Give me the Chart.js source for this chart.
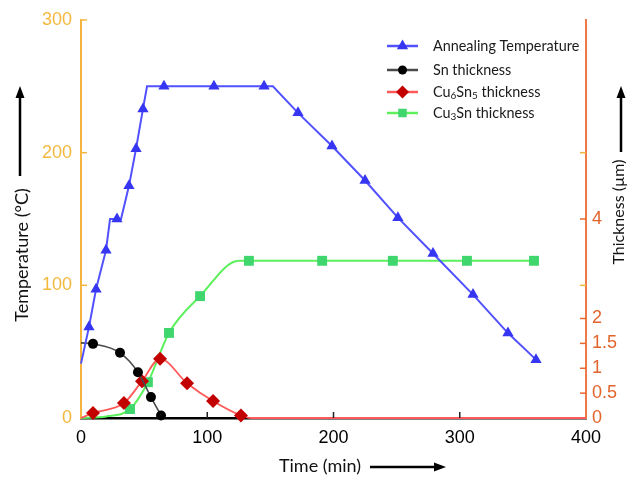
<!DOCTYPE html>
<html>
<head>
<meta charset="utf-8">
<script src="https://cdn.jsdelivr.net/npm/chart.js@4.4.0/dist/chart.umd.min.js"></script>
<style>
  html, body { margin: 0; padding: 0; background: #fff; }
</style>
</head>
<body>
<canvas id="anneal" width="629" height="477"></canvas>
<script>
// Annealing temperature (left axis, °C) - kinks without marker included
const tempTime   = [0, 6.3, 11.9, 19.8, 23, 28.5, 31.7, 38, 43.6, 49.1, 52.3, 65.7, 105.3, 145, 152, 171.9, 198.8, 225, 251, 278.8, 310.5, 338.2, 360.4];
const tempValue  = [41, 68.5, 97, 126.5, 150, 150, 150, 175, 203, 233, 250, 250, 250, 250, 250, 230, 205, 179, 151, 124, 93, 64, 44];
const tempMarker = [0, 1, 1, 1, 0, 1, 0, 1, 1, 1, 0, 1, 1, 1, 0, 1, 1, 1, 1, 1, 1, 1, 1];

// Thickness series (right axis, µm)
const snTime     = [0, 9.5, 30.9, 45.1, 55.4, 63.4];
const snValue    = [1.51, 1.49, 1.31, 0.92, 0.42, 0.05];
const snMarker   = [0, 1, 1, 1, 1, 1];

const cu6Time    = [0, 9.5, 34, 48.3, 62.6, 84, 104.6, 126.7, 135, 400];
const cu6Value   = [0, 0.1, 0.3, 0.74, 1.19, 0.7, 0.34, 0.05, 0, 0];
const cu6Marker  = [0, 1, 1, 1, 1, 1, 1, 1, 0, 0];

const cu3Time    = [0, 20, 38.8, 53, 69.7, 94.3, 125, 133, 191, 247, 305.7, 358.8];
const cu3Value   = [0, 0.03, 0.18, 0.72, 1.71, 2.45, 3.16, 3.16, 3.16, 3.16, 3.16, 3.16];
const cu3Marker  = [0, 0, 1, 1, 1, 1, 0, 1, 1, 1, 1, 1];

const thicknessTicks = [0, 0.5, 1, 1.5, 2, 4];

const toPoints = (xs, ys) => xs.map((t, i) => ({ x: t, y: ys[i] }));
const radii = (flags, r) => flags.map(f => f ? r : 0);

const tickFont = { family: "'Liberation Sans', Arial, sans-serif", size: 18 };
const textFont = "Lato, 'Open Sans', sans-serif";

// legend entries, with subscripts as separate pieces
const legendRows = [
    [["Annealing Temperature"]],
    [["Sn thickness"]],
    [["Cu"], ["6", 1], ["Sn"], ["5", 1], [" thickness"]],
    [["Cu"], ["3", 1], ["Sn thickness"]]
];

function drawArrow(ctx, x0, y0, x1, y1) {
    const ang = Math.atan2(y1 - y0, x1 - x0);
    const head = 12, half = 4.5;
    ctx.beginPath();
    ctx.moveTo(x0, y0);
    ctx.lineTo(x1 - Math.cos(ang) * head * 0.8, y1 - Math.sin(ang) * head * 0.8);
    ctx.stroke();
    ctx.beginPath();
    ctx.moveTo(x1, y1);
    ctx.lineTo(x1 - Math.cos(ang) * head - Math.sin(ang) * half, y1 - Math.sin(ang) * head + Math.cos(ang) * half);
    ctx.lineTo(x1 - Math.cos(ang) * head + Math.sin(ang) * half, y1 - Math.sin(ang) * head - Math.cos(ang) * half);
    ctx.closePath();
    ctx.fill();
}

const decorations = {
    id: "decorations",
    afterDraw(chart) {
        const ctx = chart.ctx;
        const sx = chart.scales.x, sy = chart.scales.y, sy1 = chart.scales.y1;
        const a = chart.chartArea;
        ctx.save();

        // inward tick marks
        ctx.lineWidth = 1.5;
        ctx.strokeStyle = "#F4B53F";
        [100, 200, 300].forEach(v => {
            const py = sy.getPixelForValue(v);
            ctx.beginPath(); ctx.moveTo(a.left, py); ctx.lineTo(a.left + 6, py); ctx.stroke();
        });
        [100, 200].forEach(v => {
            const py = sy.getPixelForValue(v);
            ctx.beginPath(); ctx.moveTo(a.right, py); ctx.lineTo(a.right - 6, py); ctx.stroke();
        });
        ctx.strokeStyle = "#E8692F";
        thicknessTicks.slice(1).forEach(v => {
            const py = sy1.getPixelForValue(v);
            ctx.beginPath(); ctx.moveTo(a.right, py); ctx.lineTo(a.right - 6, py); ctx.stroke();
        });
        ctx.strokeStyle = "#222";
        [100, 200, 300].forEach(v => {
            const px = sx.getPixelForValue(v);
            ctx.beginPath(); ctx.moveTo(px, a.bottom); ctx.lineTo(px, a.bottom - 6); ctx.stroke();
        });

        // axis titles
        ctx.fillStyle = "#111";
        ctx.font = "18px " + textFont;
        ctx.textBaseline = "middle";
        ctx.textAlign = "center";
        ctx.fillText("Time (min)", 320, 466);
        ctx.save();
        ctx.translate(22, 255);
        ctx.rotate(-Math.PI / 2);
        ctx.fillText("Temperature (\u00B0C)", 0, 0);
        ctx.restore();
        ctx.font = "16px " + textFont;
        ctx.save();
        ctx.translate(619, 212);
        ctx.rotate(-Math.PI / 2);
        ctx.fillText("Thickness (\u00B5m)", 0, 0);
        ctx.restore();

        // arrows
        ctx.strokeStyle = "#000";
        ctx.fillStyle = "#000";
        ctx.lineWidth = 2.5;
        drawArrow(ctx, 20, 176, 20, 86);
        drawArrow(ctx, 621, 152, 621, 86);
        drawArrow(ctx, 370, 467, 446, 467);

        // legend
        const lx0 = 387, lx1 = 418, tx = 433;
        const rowY = [46, 70, 92, 113];
        chart.data.datasets.forEach((ds, i) => {
            const y = rowY[i];
            ctx.strokeStyle = ds.borderColor;
            ctx.lineWidth = 2.5;
            ctx.beginPath(); ctx.moveTo(lx0, y); ctx.lineTo(lx1, y); ctx.stroke();
            ctx.fillStyle = ds.pointBackgroundColor;
            ctx.strokeStyle = ds.pointBackgroundColor;
            Chart.helpers.drawPoint(ctx, {
                pointStyle: ds.pointStyle, radius: ds.legendRadius, rotation: 0, borderWidth: 0
            }, (lx0 + lx1) / 2, y);

            let x = tx;
            ctx.fillStyle = "#1a1a1a";
            ctx.textAlign = "left";
            ctx.textBaseline = "middle";
            legendRows[i].forEach(([txt, sub]) => {
                ctx.font = (sub ? "10px " : "14.4px ") + textFont;
                ctx.fillText(txt, x, sub ? y + 4 : y);
                x += ctx.measureText(txt).width;
            });
        });

        ctx.restore();
    }
};

new Chart(document.getElementById("anneal"), {
    type: "line",
    data: {
        datasets: [
            {
                label: "Annealing Temperature",
                data: toPoints(tempTime, tempValue),
                yAxisID: "y",
                borderColor: "#5151FF",
                borderWidth: 2,
                pointStyle: "triangle",
                pointRadius: radii(tempMarker, 6.5),
                legendRadius: 6.5,
                pointBackgroundColor: "#3636F2",
                pointBorderWidth: 0,
                tension: 0,
                clip: false
            },
            {
                label: "Sn thickness",
                data: toPoints(snTime, snValue),
                yAxisID: "y1",
                borderColor: "#4a4a4a",
                borderWidth: 1.6,
                pointStyle: "circle",
                pointRadius: radii(snMarker, 5),
                legendRadius: 4.5,
                pointBackgroundColor: "#000000",
                pointBorderWidth: 0,
                cubicInterpolationMode: "monotone",
                clip: false
            },
            {
                label: "Cu6Sn5 thickness",
                data: toPoints(cu6Time, cu6Value),
                yAxisID: "y1",
                borderColor: "#FF5A5A",
                borderWidth: 1.8,
                pointStyle: "rectRot",
                pointRadius: radii(cu6Marker, 7),
                legendRadius: 6.5,
                pointBackgroundColor: "#C20000",
                pointBorderWidth: 0,
                cubicInterpolationMode: "monotone",
                clip: false
            },
            {
                label: "Cu3Sn thickness",
                data: toPoints(cu3Time, cu3Value),
                yAxisID: "y1",
                borderColor: "#5CF05C",
                borderWidth: 2,
                pointStyle: "rect",
                pointRadius: radii(cu3Marker, 7),
                legendRadius: 6,
                pointBackgroundColor: "#3FD66E",
                pointBorderWidth: 0,
                cubicInterpolationMode: "monotone",
                clip: false
            }
        ]
    },
    options: {
        responsive: false,
        animation: false,
        events: [],
        layout: { padding: { top: 20, right: 0, left: 0, bottom: 0 } },
        plugins: {
            legend: { display: false },
            tooltip: { enabled: false }
        },
        scales: {
            x: {
                type: "linear",
                min: 0,
                max: 400,
                afterFit: s => { s.height = 59; },
                ticks: { stepSize: 100, color: "#000", font: tickFont, padding: 9, maxRotation: 0 },
                grid: { drawOnChartArea: false, drawTicks: false },
                border: { color: "#000", width: 2.5 }
            },
            y: {
                position: "left",
                min: 0,
                max: 300,
                afterFit: s => { s.width = 81; },
                ticks: { stepSize: 100, color: "#F4B83F", font: tickFont, padding: 9 },
                grid: { drawOnChartArea: false, drawTicks: false },
                border: { color: "#F5B440", width: 2 }
            },
            y1: {
                position: "right",
                min: 0,
                max: 8,
                afterFit: s => { s.width = 43; },
                afterBuildTicks: s => { s.ticks = thicknessTicks.map(v => ({ value: v })); },
                ticks: { color: "#E2642C", font: tickFont, padding: 6, callback: v => String(v) },
                grid: { drawOnChartArea: false, drawTicks: false },
                border: { color: "#EE7B45", width: 2 }
            }
        }
    },
    plugins: [decorations]
});
</script>
</body>
</html>
